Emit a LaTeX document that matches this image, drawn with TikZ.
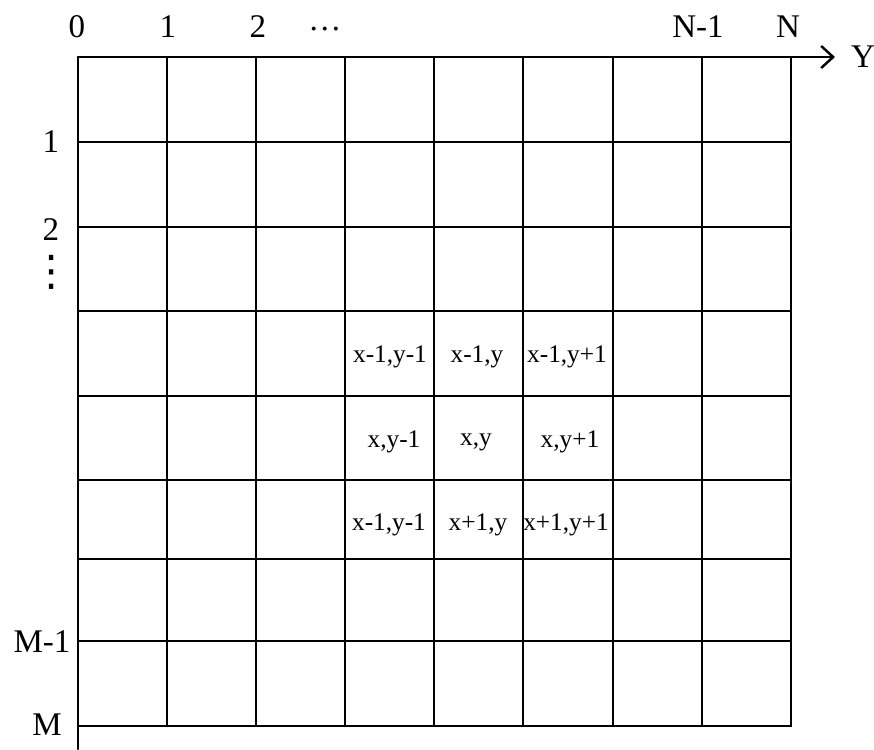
\documentclass[tikz,border=0pt]{standalone}
\usepackage{fontspec}
\setmainfont{Liberation Serif}
\newfontfamily\symfont{DejaVu Sans}
\usepackage{amsmath,amssymb}
\usetikzlibrary{arrows.meta}
\usepackage{xcolor}

\begin{document}
\begin{tikzpicture}[>={Straight Barb[length=1.2mm,width=2.2mm]},font=\fontsize{9.4}{11}\selectfont,line cap=round,
  cell/.style={font=\fontsize{7.2}{9}\selectfont,inner sep=0pt}]
\useasboundingbox (0,0) rectangle (8.74,7.49);
% grid
\draw[line width=0.7pt,->] (0.78,6.92) -- (8.35,6.92);
\draw[line width=0.7pt] (0.78,6.92) -- (0.78,0);
\draw[line width=0.7pt] (1.67,6.92) -- (1.67,0.23);
\draw[line width=0.7pt] (2.56,6.92) -- (2.56,0.23);
\draw[line width=0.7pt] (3.45,6.92) -- (3.45,0.23);
\draw[line width=0.7pt] (4.34,6.92) -- (4.34,0.23);
\draw[line width=0.7pt] (5.23,6.92) -- (5.23,0.23);
\draw[line width=0.7pt] (6.13,6.92) -- (6.13,0.23);
\draw[line width=0.7pt] (7.02,6.92) -- (7.02,0.23);
\draw[line width=0.7pt] (7.91,6.92) -- (7.91,0.23);
\draw[line width=0.7pt] (0.78,6.07) -- (7.91,6.07);
\draw[line width=0.7pt] (0.78,5.22) -- (7.91,5.22);
\draw[line width=0.7pt] (0.78,4.38) -- (7.91,4.38);
\draw[line width=0.7pt] (0.78,3.53) -- (7.91,3.53);
\draw[line width=0.7pt] (0.78,2.69) -- (7.91,2.69);
\draw[line width=0.7pt] (0.78,1.90) -- (7.91,1.90);
\draw[line width=0.7pt] (0.78,1.08) -- (7.91,1.08);
\draw[line width=0.7pt] (0.78,0.23) -- (7.91,0.23);
% column labels
\node (col0) at (0.77,7.22) {0};
\node (col1) at (1.68,7.22) {1};
\node (col2) at (2.58,7.22) {2};
\node (coldots) at (3.25,7.20) {\dots};
\node (colN1) at (6.98,7.22) {N-1};
\node (colN) at (7.88,7.22) {N};
\node (axisY) at (8.63,6.92) {Y};
% row labels
\node (row1) at (0.51,6.07) {1};
\node (row2) at (0.51,5.19) {2};
\node (rowdots) at (0.52,4.77) {\symfont\fontsize{12}{12}\selectfont ⋮};
\node (rowM1) at (0.42,1.07) {M-1};
\node (rowM) at (0.47,0.24) {M};
% neighbourhood of (x,y)
\node[cell] (nw) at (3.90,3.92) {x-1,y-1};
\node[cell] (n) at (4.77,3.92) {x-1,y};
\node[cell] (ne) at (5.67,3.92) {x-1,y+1};
\node[cell] (w) at (3.94,3.07) {x,y-1};
\node[cell] (c) at (4.76,3.07) {x,y};
\node[cell] (e) at (5.70,3.07) {x,y+1};
\node[cell] (sw) at (3.89,2.24) {x-1,y-1};
\node[cell] (s) at (4.78,2.24) {x+1,y};
\node[cell] (se) at (5.66,2.24) {x+1,y+1};
\end{tikzpicture}
\end{document}
